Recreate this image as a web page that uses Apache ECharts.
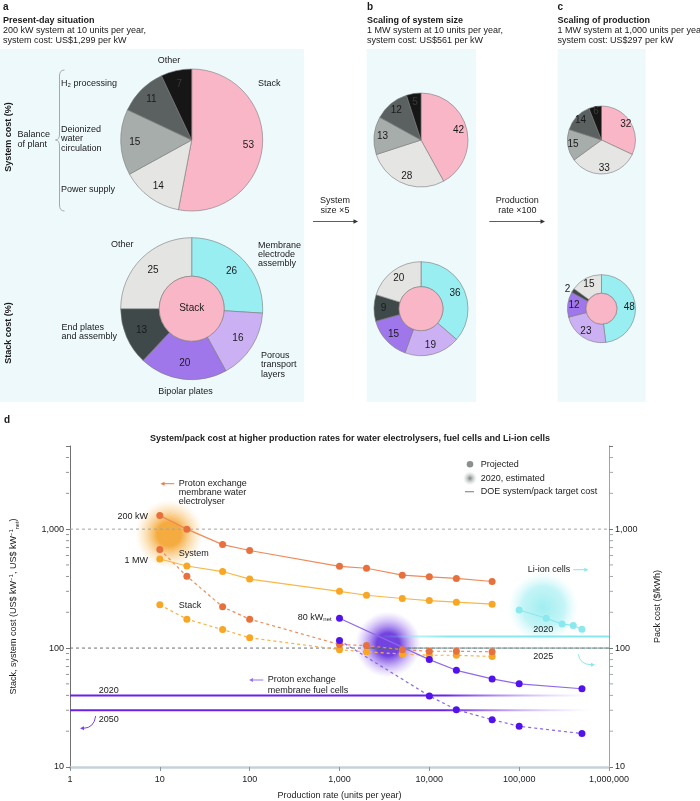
<!DOCTYPE html>
<html><head><meta charset="utf-8">
<script src="https://cdn.jsdelivr.net/npm/echarts@6/dist/echarts.min.js"></script>
<style>html,body{margin:0;padding:0;background:#fff}#c{width:700px;height:801px}</style>
</head><body><div id="c"></div>
<script>
const FONT = '"Liberation Sans", Arial, Helvetica, sans-serif';

// ---- panels a-c: cost breakdowns (%) ----
const sysNames = ['Stack', 'Power supply', 'Deionized water circulation', 'H2 processing', 'Other'];
const sysA = [53, 14, 15, 11, 7];
const sysB = [42, 28, 13, 12, 5];
const sysC = [32, 33, 15, 14, 6];
const stackNames = ['Membrane electrode assembly', 'Porous transport layers', 'Bipolar plates', 'End plates and assembly', 'Other'];
const stackA = [26, 16, 20, 13, 25];
const stackB = [36, 19, 15, 9, 20];
const stackC = [48, 23, 12, 2, 15];

// ---- panel d: cost vs production rate ----
const xElec = [10, 20, 50, 100, 1000, 2000, 5000, 10000, 20000, 50000];
const elecSys200kW = [1299, 1000, 741, 661, 487, 469, 410, 397, 385, 363];
const elecSys1MW = [561, 490, 440, 380, 300, 278, 261, 251, 243, 234];
const elecStack200kW = [673, 402, 222, 175, 107, 105, 97, 94, 94, 93];
const elecStack1MW = [231, 175, 143, 122, 97, 93, 89, 87, 87, 85];
const xFC = [1000, 10000, 20000, 50000, 100000, 500000];
const fcSys80kW = [178, 80, 65, 55, 50, 45.5];
const fcStack = [116, 39.6, 30.3, 25, 22, 19.1];
const xLi = [100000, 200000, 300000, 400000, 500000];
const liPack = [209, 178, 159, 155, 144];
const estX = [12.7, 3470, 185000];       // 2020 estimated blobs
const estY = [908, 107, 220];
const fcTargets = [40, 30];               // 2020, 2050
const liTargets = [125, 100];             // 2020, 2025
const refLevels = [1000, 100];
const yMinor = [20, 30, 40, 50, 60, 70, 80, 90, 200, 300, 400, 500, 600, 700, 800, 900, 2000, 3000, 4000];

const sysColors = ['#f9b6c7', '#e5e5e4', '#a7adab', '#5b6161', '#161616'];
const stackColors = ['#98eef1', '#ccb0f4', '#a077eb', '#3f4949', '#e4e4e3'];
const PINK = '#f9b6c7';
const zip = (xs, ys) => xs.map((x, i) => [x, ys[i]]);

const series = [];
function addPie(cx, cy, r, r0, vals, names, colors, opts) {
  opts = opts || {};
  const base = {
    type: 'pie', center: [cx, cy], startAngle: 90, clockwise: true, silent: true,
    emphasis: { disabled: true }, z: 3
  };
  series.push(Object.assign({}, base, {
    radius: [r0, r],
    itemStyle: { borderColor: '#7a7a7a', borderWidth: 0.6 },
    label: r0 > 0 ? { show: true, position: 'inside', formatter: '{c}', fontSize: 10, color: '#1a1a1a', fontFamily: FONT } : { show: false },
    labelLine: { show: false },
    data: vals.map((v, i) => {
      const d = { name: names[i], value: v, itemStyle: { color: colors[i] } };
      if (opts.outsideIdx === i) {
        d.label = { position: 'outside', formatter: '{c}', fontSize: 10, color: '#1a1a1a', distanceToLabelLine: 0 };
        d.labelLine = { show: false, length: 3, length2: 0 };
      }
      return d;
    }),
    labelLayout: { hideOverlap: false }
  }));
  if (r0 === 0) {
    // label ring so numbers sit at ~0.76 r like the reference
    series.push(Object.assign({}, base, {
      radius: [r * 0.52, r], z: 4,
      itemStyle: { color: 'rgba(0,0,0,0)', borderWidth: 0 },
      label: { show: true, position: 'inside', formatter: '{c}', fontSize: 10, color: '#1a1a1a', fontFamily: FONT },
      labelLine: { show: false },
      data: vals.map((v, i) => ({ name: names[i], value: v, label: colors[i] === '#161616' ? { color: '#3a3a3a' } : undefined }))
    }));
  } else {
    series.push(Object.assign({}, base, {
      radius: [0, r0],
      itemStyle: { color: PINK, borderColor: '#7a7a7a', borderWidth: 0.6 },
      label: { show: !!opts.centerLabel, position: 'center', formatter: opts.centerLabel || '', fontSize: 10, color: '#1a1a1a', fontFamily: FONT },
      labelLine: { show: false },
      data: [{ name: 'Stack', value: 1 }]
    }));
  }
}
// panel a
addPie(191.7, 140, 71, 0, sysA, sysNames, sysColors);
addPie(191.7, 308.7, 71, 32.5, stackA, stackNames, stackColors, { centerLabel: 'Stack' });
// panel b
addPie(421, 140, 47, 0, sysB, sysNames, sysColors);
addPie(421, 308.7, 47, 22, stackB, stackNames, stackColors);
// panel c
addPie(601.5, 140, 34, 0, sysC, sysNames, sysColors);
addPie(601.5, 308.7, 34, 15.5, stackC, stackNames, stackColors, { outsideIdx: 3 });

// ---- panel d series ----
function radial(c0, c1) {
  return { type: 'radial', x: 0.5, y: 0.5, r: 0.5, colorStops: [{ offset: 0, color: c0 }, { offset: 0.35, color: c0 }, { offset: 1, color: c1 }] };
}
const blobStyles = [
  { size: 68, color: radial('rgba(242,150,15,1)', 'rgba(250,200,120,0)') },
  { size: 66, color: radial('rgba(80,20,215,1)', 'rgba(170,130,245,0)') },
  { size: 70, color: { type: 'radial', x: 0.5, y: 0.5, r: 0.5, colorStops: [{ offset: 0, color: 'rgba(130,232,236,0.95)' }, { offset: 0.6, color: 'rgba(150,236,240,0.7)' }, { offset: 1, color: 'rgba(190,245,247,0)' }] } }
];
series.push({
  type: 'scatter', name: '2020, estimated', xAxisIndex: 0, yAxisIndex: 0, z: 1, silent: true,
  data: estX.map((x, i) => ({ value: [x, estY[i]], symbolSize: blobStyles[i].size, itemStyle: { color: blobStyles[i].color } }))
});
function hline(y, x0, x1, color, width, type, z) {
  series.push({ type: 'line', yAxisIndex: 0, silent: true, symbol: 'none', z: z || 2,
    lineStyle: { color, width, type: type || 'solid' }, data: [[x0, y], [x1, y]] });
}
const fadeR = (c, c2) => ({ type: 'linear', x: 0, y: 0, x2: 1, y2: 0, colorStops: [{ offset: 0, color: c }, { offset: 0.72, color: c }, { offset: 1, color: c2 }] });
hline(refLevels[0], 1, 1000000, '#a5a5a5', 1, [3, 3]);
hline(refLevels[1], 1, 1000000, '#6b6f70', 1, [3, 3]);
hline(liTargets[1], 2000, 1000000, '#2f6e6e', 1, [3, 3]);
hline(fcTargets[0], 1, 600000, fadeR('#6a22ea', 'rgba(190,160,250,0)'), 2);
hline(fcTargets[1], 1, 600000, fadeR('#6a22ea', 'rgba(190,160,250,0)'), 2);
hline(liTargets[0], 3000, 1000000, { type: 'linear', x: 0, y: 0, x2: 1, y2: 0, colorStops: [{ offset: 0, color: 'rgba(120,230,235,0)' }, { offset: 0.3, color: '#86e8ec' }, { offset: 1, color: '#86e8ec' }] }, 2);

function curve(name, xs, ys, dot, line, dashed) {
  series.push({ type: 'line', name, yAxisIndex: 0, z: 5, silent: true,
    symbol: 'circle', symbolSize: 7, showSymbol: true,
    itemStyle: { color: dot }, lineStyle: { color: line, width: 1.2, type: dashed ? [3, 3] : 'solid' },
    data: zip(xs, ys) });
}
curve('Electrolyser stack 1 MW', xElec, elecStack1MW, '#f8a623', '#f8b040', true);
curve('Electrolyser stack 200 kW', xElec, elecStack200kW, '#e8703c', '#ef8a5a', true);
curve('Fuel cell stack', xFC, fcStack, '#5212ee', '#8a62ec', true);
curve('Electrolyser system 1 MW', xElec, elecSys1MW, '#f8a623', '#f8b848', false);
curve('Electrolyser system 200 kW', xElec, elecSys200kW, '#e8703c', '#ef8a5a', false);
curve('Fuel cell system 80 kW', xFC, fcSys80kW, '#5212ee', '#9068ec', false);
curve('Li-ion pack', xLi, liPack, '#8ae9ef', '#8ae9ef', false);

// minor ticks on both y axes
series.push({ type: 'scatter', yAxisIndex: 0, silent: true, clip: false, z: 6, symbol: 'rect', symbolSize: [3, 1], symbolOffset: [-2.5, 0],
  itemStyle: { color: '#777' }, data: yMinor.map(v => [1, v]) });
series.push({ type: 'scatter', yAxisIndex: 0, silent: true, clip: false, z: 6, symbol: 'rect', symbolSize: [3, 1], symbolOffset: [2.5, 0],
  itemStyle: { color: '#8a949c' }, data: yMinor.map(v => [1000000, v]) });

const isPow10 = v => Math.abs(Math.log10(v) - Math.round(Math.log10(v))) < 1e-6;
const fmtNum = v => Math.round(v).toLocaleString('en-US');
const yAxisBase = {
  type: 'log', logBase: 10, min: 10, max: 5000,
  axisTick: { show: true, length: 4, lineStyle: { color: '#777' } },
  axisLabel: { fontSize: 9, color: '#222', margin: 6, fontFamily: FONT, formatter: v => isPow10(v) ? fmtNum(v) : '' },
  splitLine: { show: false },
  nameLocation: 'middle', nameRotate: 90,
};

// ---- graphic (text, backgrounds, arrows) ----
const G = [];
const TXT = '#1a1a1a';
function T(text, x, y, o) {
  o = o || {};
  G.push({ type: 'text', x, y, z: 100, rotation: o.rot || 0, silent: true,
    style: { text, fontFamily: FONT, fontSize: o.size || 9, fontWeight: o.bold ? 'bold' : 'normal', fill: o.color || TXT,
      align: o.align || 'left', verticalAlign: 'middle', textAlign: o.align || 'left', textVerticalAlign: 'middle', rich: o.rich } });
}
function R(x, y, w, h) { G.push({ type: 'rect', z: -10, silent: true, shape: { x, y, width: w, height: h }, style: { fill: '#eef9fc' } }); }
function L(x1, y1, x2, y2, color, w) { G.push({ type: 'line', z: 100, silent: true, shape: { x1, y1, x2, y2 }, style: { stroke: color, lineWidth: w || 1 } }); }
function head(x, y, dir, color, s) {
  s = s || 4.5;
  const pts = dir === 'left' ? [[x, y], [x + s, y - s / 2], [x + s, y + s / 2]] : [[x, y], [x - s, y - s / 2], [x - s, y + s / 2]];
  G.push({ type: 'polygon', z: 100, silent: true, shape: { points: pts }, style: { fill: color } });
}
function B(x1, y1, cx, cy, x2, y2, color, w) {
  G.push({ type: 'bezierCurve', z: 100, silent: true, shape: { x1, y1, cpx1: cx, cpy1: cy, x2, y2 }, style: { stroke: color, lineWidth: w || 1, fill: null } });
}

R(0, 49, 304, 353); R(366.7, 49, 109.3, 353); R(557.7, 49, 88, 353);

// headers
T('a', 3, 7, { bold: true, size: 10 });
T('Present-day situation', 3, 20.5, { bold: true, size: 9 });
T('200 kW system at 10 units per year,', 3, 31, {});
T('system cost: US$1,299 per kW', 3, 40.7, {});
T('b', 367, 7, { bold: true, size: 10 });
T('Scaling of system size', 367, 20.5, { bold: true, size: 9 });
T('1 MW system at 10 units per year,', 367, 31, {});
T('system cost: US$561 per kW', 367, 40.7, {});
T('c', 557.5, 7, { bold: true, size: 10 });
T('Scaling of production', 557.5, 20.5, { bold: true, size: 9 });
T('1 MW system at 1,000 units per year,', 557.5, 31, {});
T('system cost: US$297 per kW', 557.5, 40.7, {});

// panel a labels
T('System cost (%)', 9, 137, { bold: true, rot: Math.PI / 2, align: 'center' });
T('Stack cost (%)', 9, 333, { bold: true, rot: Math.PI / 2, align: 'center' });
T('Other', 169, 61, { align: 'center' });
T('Stack', 258, 84, {});
T('H₂ processing', 61, 84, {});
T('Deionized', 61, 129.3, {});
T('water', 61, 139, {});
T('circulation', 61, 148.3, {});
T('Power supply', 61, 190, {});
T('Balance', 17.5, 135, {});
T('of plant', 17.5, 145, {});
// brace
B(64.5, 70, 59.5, 70, 59.5, 76, '#a8a8a8');
L(59.5, 76, 59.5, 134, '#a8a8a8');
B(59.5, 134, 59.5, 140, 55.5, 140, '#a8a8a8');
B(55.5, 140, 59.5, 140, 59.5, 146, '#a8a8a8');
L(59.5, 146, 59.5, 205, '#a8a8a8');
B(59.5, 205, 59.5, 211, 64.5, 211, '#a8a8a8');

T('Other', 111, 245, {});
T('Membrane', 258, 245.3, {});
T('electrode', 258, 254.7, {});
T('assembly', 258, 264, {});
T('End plates', 61.5, 327.3, {});
T('and assembly', 61.5, 337, {});
T('Porous', 261, 355.7, {});
T('transport', 261, 365, {});
T('layers', 261, 374.7, {});
T('Bipolar plates', 185.6, 392, { align: 'center' });

// arrows between panels
T('System', 335, 201, { align: 'center' });
T('size ×5', 335, 211, { align: 'center' });
L(313, 221.5, 354, 221.5, '#333', 0.8); head(358, 221.5, 'right', '#333', 4.5);
T('Production', 517.3, 201, { align: 'center' });
T('rate ×100', 517.3, 211, { align: 'center' });
L(489.3, 221.5, 541, 221.5, '#333', 0.8); head(545, 221.5, 'right', '#333', 4.5);

// panel d
T('d', 4, 420, { bold: true, size: 10 });
T('System/pack cost at higher production rates for water electrolysers, fuel cells and Li-ion cells', 350, 439, { bold: true, align: 'center' });
// legend
G.push({ type: 'circle', z: 100, silent: true, shape: { cx: 470, cy: 464.3, r: 3.3 }, style: { fill: '#8a9090' } });
G.push({ type: 'circle', z: 100, silent: true, shape: { cx: 470, cy: 478.3, r: 7 }, style: { fill: { type: 'radial', x: 0.5, y: 0.5, r: 0.5, colorStops: [{ offset: 0, color: 'rgba(120,128,128,1)' }, { offset: 1, color: 'rgba(200,205,205,0)' }] } } });
L(465, 491.7, 474, 491.7, '#8a9090', 1.2);
T('Projected', 480.7, 464.3, {});
T('2020, estimated', 480.7, 478.3, {});
T('DOE system/pack target cost', 480.7, 492, {});
// electrolyser annotations
L(164, 483.7, 174.3, 483.7, '#ef7a45', 1); head(160.5, 483.7, 'left', '#ef7a45', 4);
T('Proton exchange', 178.7, 483.7, {});
T('membrane water', 178.7, 492.7, {});
T('electrolyser', 178.7, 502, {});
T('200 kW', 148, 516.3, { align: 'right' });
T('System', 178.7, 553.7, {});
T('1 MW', 148, 560.3, { align: 'right' });
T('Stack', 178.7, 605.3, {});
T('{a|80 kW}{b|net}', 331.7, 617.3, { align: 'right', rich: { a: { fontSize: 9, fontFamily: FONT, fill: TXT, lineHeight: 11 }, b: { fontSize: 6, fontFamily: FONT, fill: TXT, verticalAlign: 'bottom', lineHeight: 6 } } });
// fuel cell annotations
L(252.5, 680, 263.3, 680, '#9a70f0', 1); head(249, 680, 'left', '#9a70f0', 4);
T('Proton exchange', 267.7, 680, {});
T('membrane fuel cells', 267.7, 690.3, {});
T('2020', 98.7, 690.3, {});
T('2050', 98.7, 719.3, {});
B(95.7, 716, 94, 728, 83.5, 728.3, '#7a40ee', 1); head(80, 728.3, 'left', '#7a40ee', 4);
// li-ion annotations
T('Li-ion cells', 527.7, 569.7, {});
L(573.3, 569.7, 584.5, 569.7, '#86e8ec', 1); head(588.3, 569.7, 'right', '#86e8ec', 4);
T('2020', 533.3, 630, {});
T('2025', 533.3, 656.7, {});
B(578.3, 654.3, 580, 664.7, 591.5, 664.7, '#86e8ec', 1); head(595, 664.7, 'right', '#86e8ec', 4);

const option = {
  animation: false,
  textStyle: { fontFamily: FONT },
  grid: { left: 67, right: 91, top: 446, bottom: 31, containLabel: false },
  xAxis: {
    type: 'log', logBase: 10, min: 1, max: 1000000,
    axisLine: { show: true, lineStyle: { color: '#c6d2db', width: 2.5 } },
    axisTick: { show: true, length: 4, lineStyle: { color: '#8a949c' } },
    axisLabel: { fontSize: 9, color: '#222', margin: 8, fontFamily: FONT, formatter: v => fmtNum(v) },
    splitLine: { show: false },
    name: 'Production rate (units per year)', nameLocation: 'middle', nameGap: 24,
    nameTextStyle: { fontSize: 9, color: '#222', fontFamily: FONT }
  },
  yAxis: [
    Object.assign({}, yAxisBase, {
      position: 'left',
      axisLine: { show: true, lineStyle: { color: '#707070', width: 1 } },
      name: 'Stack, system cost (US$ kW{sup|−1}, US$ kW{sup|−1}{sub|net})', nameGap: 50,
      nameTextStyle: { fontSize: 9, color: '#222', fontFamily: FONT, lineHeight: 12,
        rich: { sup: { fontSize: 6, verticalAlign: 'top', lineHeight: 6, fontFamily: FONT, color: '#222' },
                sub: { fontSize: 5.5, verticalAlign: 'bottom', lineHeight: 5, fontFamily: FONT, color: '#222' } } }
    }),
    Object.assign({}, yAxisBase, {
      position: 'right',
      axisLine: { show: true, lineStyle: { color: '#9aa4ac', width: 1 } },
      name: 'Pack cost ($/kWh)', nameGap: 44,
      nameTextStyle: { fontSize: 9, color: '#222', fontFamily: FONT }
    })
  ],
  graphic: { elements: G },
  series
};
const chart = echarts.init(document.getElementById('c'), null, { renderer: 'canvas', width: 700, height: 801 });
chart.setOption(option);
</script></body></html>
